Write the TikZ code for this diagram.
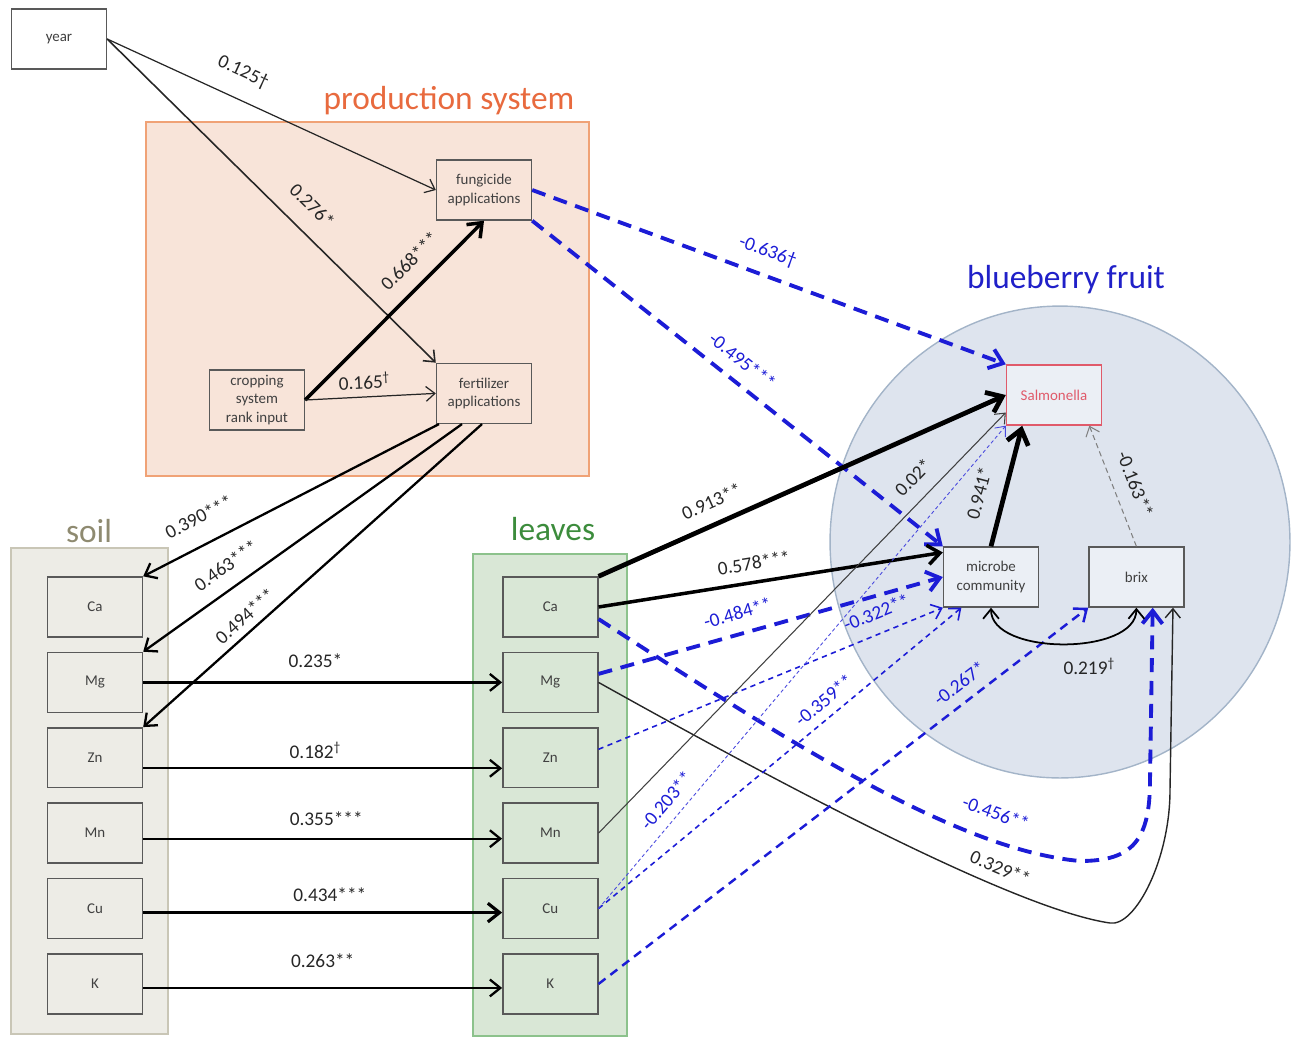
\documentclass[tikz,border=0pt]{standalone}
\usepackage{fontspec}
\setmainfont{Carlito}
\usetikzlibrary{positioning, shapes.geometric, arrows.meta}

\definecolor{prodfill}{HTML}{F8E4D9}
\definecolor{prodline}{HTML}{F0A276}
\definecolor{prodtext}{HTML}{E86A3E}
\definecolor{soilfill}{HTML}{EDECE6}
\definecolor{soilline}{HTML}{C9C6B6}
\definecolor{soiltext}{HTML}{8E8A70}
\definecolor{leaffill}{HTML}{D9E7D6}
\definecolor{leafline}{HTML}{8CC28C}
\definecolor{leaftext}{HTML}{3C8C3C}
\definecolor{fruitfill}{HTML}{DEE4EE}
\definecolor{fruitline}{HTML}{A3B4C8}
\definecolor{fruittext}{HTML}{2020C8}
\definecolor{effblue}{HTML}{1C1CD6}
\definecolor{salred}{HTML}{E05A6A}

\begin{document}
\begin{tikzpicture}[x=0.02cm, y=-0.02cm,
    >={Straight Barb[length=4pt 1.5, width=7pt 2]},
    varbox/.style={draw=black!65, line width=0.8pt, rectangle, minimum width=1.9cm,
                   minimum height=1.2cm, inner sep=1pt, align=center, text=black!75,
                   font=\fontsize{8.5}{10.5}\selectfont},
    groupbox/.style={line width=0.8pt, inner sep=0pt},
    grouptitle/.style={font=\fontsize{19}{22}\selectfont},
    coef/.style={sloped, inner sep=1pt, text=black!85, font=\fontsize{11}{13}\selectfont},
    flatcoef/.style={inner sep=1pt, text=black!85, font=\fontsize{11}{13}\selectfont},
    negcoef/.style={coef, text=effblue},
    posthin/.style={->, line width=0.7pt, black!85},
    posmid/.style={->, line width=1.3pt},
    posthick/.style={->, line width=2pt},
    posheavy/.style={->, line width=2.7pt},
    negthick/.style={->, effblue, line width=2.2pt, dash pattern=on 8pt off 5pt},
    negmid/.style={->, effblue, line width=1.4pt, dash pattern=on 5pt off 3.5pt},
    negthin/.style={->, effblue, line width=0.9pt, dash pattern=on 3pt off 2.5pt},
    negfine/.style={->, effblue!80, line width=0.5pt, dash pattern=on 2pt off 1.5pt}]

    \useasboundingbox (0,0) rectangle (1295,1036);

    \node[groupbox, draw=prodline, fill=prodfill, minimum width=8.86cm,
          minimum height=7.08cm] (prodbox) at (367.5,299) {};
    \node[groupbox, draw=soilline, fill=soilfill, minimum width=3.14cm,
          minimum height=9.72cm] (soilbox) at (89.5,791) {};
    \node[groupbox, draw=leafline, fill=leaffill, minimum width=3.08cm,
          minimum height=9.64cm] (leafbox) at (550,795) {};
    \node[groupbox, ellipse, draw=fruitline, fill=fruitfill, minimum width=9.2cm,
          minimum height=9.44cm] (fruit) at (1060,542) {};

    \node[grouptitle, text=prodtext] (prodtitle) at (449,101) {production system};
    \node[grouptitle, text=soiltext] (soiltitle) at (89,531) {soil};
    \node[grouptitle, text=leaftext] (leaftitle) at (553,529) {leaves};
    \node[grouptitle, text=fruittext] (fruittitle) at (1066,280) {blueberry fruit};

    \node[varbox, fill=white] (year) at (59,39) {year};
    \node[varbox, fill=prodfill] (fung) at (484,190) {fungicide\\applications};
    \node[varbox, fill=prodfill, below=2.84cm of fung] (fert) {fertilizer\\applications};
    \node[varbox, fill=prodfill] (crop) at (257,400) {cropping\\system\\rank input};

    \node[varbox, fill=soilfill] (sca) at (95,607) {Ca};
    \node[varbox, fill=soilfill, below=0.28cm of sca] (smg) {Mg};
    \node[varbox, fill=soilfill, below=0.28cm of smg] (szn) {Zn};
    \node[varbox, fill=soilfill, below=0.28cm of szn] (smn) {Mn};
    \node[varbox, fill=soilfill, below=0.28cm of smn] (scu) {Cu};
    \node[varbox, fill=soilfill, below=0.28cm of scu] (sk) {K};

    \node[varbox, fill=leaffill, right=7.18cm of sca] (lca) {Ca};
    \node[varbox, fill=leaffill, below=0.28cm of lca] (lmg) {Mg};
    \node[varbox, fill=leaffill, below=0.28cm of lmg] (lzn) {Zn};
    \node[varbox, fill=leaffill, below=0.28cm of lzn] (lmn) {Mn};
    \node[varbox, fill=leaffill, below=0.28cm of lmn] (lcu) {Cu};
    \node[varbox, fill=leaffill, below=0.28cm of lcu] (lk) {K};

    \node[varbox, fill=fruitfill!60!white, draw=salred, text=salred] (sal) at (1054,395) {Salmonella};
    \node[varbox, fill=fruitfill!60!white] (mic) at (991,577) {microbe\\community};
    \node[varbox, fill=fruitfill!60!white, right=0.98cm of mic] (brix) {brix};

    \draw[posthin] (year.east) -- node[coef, pos=0.38, above=9pt] {0.125†} (fung.west);
    \draw[posthin, line width=0.9pt] (year.east) -- node[coef, pos=0.57, above=9pt] {0.276*} (fert.north west);
    \draw[posthick] (crop.east) -- node[coef, pos=0.68, above=8pt] {0.668***} (fung.south);
    \draw[posthin] (crop.east) -- node[coef, pos=0.46, above=3pt] {0.165\textsuperscript{†}} (fert.west);

    \draw[posmid] ([xshift=-0.9cm]fert.south) -- node[coef, pos=0.77, above=10pt] {0.390***} (sca.north east);
    \draw[posmid] ([xshift=-0.44cm]fert.south) -- node[coef, pos=0.70, above=7pt] {0.463***} (smg.north east);
    \draw[posmid] ([xshift=-0.04cm]fert.south) -- node[coef, pos=0.67, above=3pt] {0.494***} (szn.north east);

    \draw[posmid] (smg.east) -- node[coef, pos=0.48, above=7pt] {0.235*} (lmg.west);
    \draw[posmid] ([yshift=-0.21cm]szn.east) -- node[coef, pos=0.48, above=4pt] {0.182\textsuperscript{†}} ([yshift=-0.21cm]lzn.west);
    \draw[posmid] ([yshift=-0.11cm]smn.east) -- node[coef, pos=0.51, above=5.5pt] {0.355***} ([yshift=-0.11cm]lmn.west);
    \draw[posthick, line width=1.8pt] ([yshift=-0.08cm]scu.east) -- node[coef, pos=0.52, above=4.5pt] {0.434***} ([yshift=-0.08cm]lcu.west);
    \draw[posmid] ([yshift=-0.08cm]sk.east) -- node[coef, pos=0.5, above=10pt] {0.263**} ([yshift=-0.08cm]lk.west);

    \draw[negthick] (fung.east) -- node[negcoef, pos=0.48, above=6.5pt] {-0.636†} (sal.north west);
    \draw[negthick] (fung.south east) -- node[negcoef, pos=0.48, above=6pt] {-0.495***} (mic.north west);
    \draw[posheavy] (lca.north east) -- node[coef, pos=0.30, above=6.5pt] {0.913**} (sal.west);
    \draw[posthick] (lca.east) -- node[coef, pos=0.46, above=5pt] {0.578***} (mic.153);
    \draw[negthick] (lca.-14) .. controls (800,750) and (960,850) .. (1080,861)
        node[negcoef, pos=0.76, above=9.5pt] {-0.456**}
        .. controls (1133,861) and (1150,840) .. (1150,780) -- (brix.-62);
    \draw[negthick] (lmg.10) -- node[negcoef, pos=0.42, above=6pt] {-0.484**} (mic.west);
    \draw[posthin, line width=0.8pt] (lmg.east) .. controls (800,795) and (1020,910) .. (1110,923)
        node[coef, pos=0.69, above=5pt] {0.329**}
        .. controls (1135,927) and (1170,860) .. (1170,790) -- (brix.-40);
    \draw[negthin] (lzn.10) -- node[negcoef, pos=0.83, above=6.5pt] {-0.322**} (mic.south west);
    \draw[posthin, line width=0.6pt, black!75] (lmn.east) -- node[coef, pos=0.81, above=7pt] {0.02*} (sal.200);
    \draw[negthin] (lcu.east) -- node[negcoef, pos=0.65, above=4pt] {-0.359**} (mic.226);
    \draw[negfine] (lcu.east) -- node[negcoef, pos=0.2, above=5pt] {-0.203**} (sal.south west);
    \draw[negmid] (lk.east) -- node[negcoef, pos=0.76, above=5pt] {-0.267*} (brix.south west);

    \draw[posheavy] (mic.north) -- node[coef, pos=0.39, above=8pt] {0.941*} (sal.224);
    \draw[posthin, line width=0.6pt, gray, dash pattern=on 3pt off 2pt] (brix.north) -- node[coef, pos=0.45, above=7pt] {-0.163**} (sal.-41);
    \draw[<->, line width=1pt] (mic.south) to[out=-90, in=-90, looseness=0.85]
        node[flatcoef, pos=0.62, below=8pt] {0.219\textsuperscript{†}} (brix.south);
\end{tikzpicture}
\end{document}
